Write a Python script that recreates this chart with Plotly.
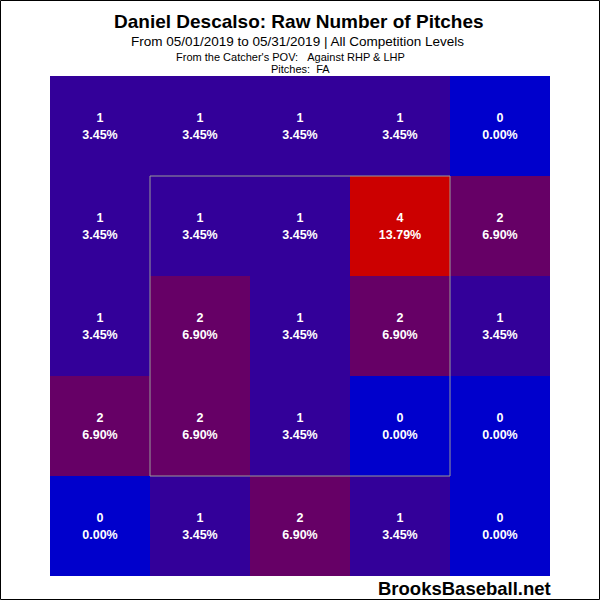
import plotly.graph_objects as go

# Pitch counts by zone, rows top -> bottom, columns left -> right (catcher's POV)
counts = [
    [1, 1, 1, 1, 0],
    [1, 1, 1, 4, 2],
    [1, 2, 1, 2, 1],
    [2, 2, 1, 0, 0],
    [0, 1, 2, 1, 0],
]
col_idx = [0, 1, 2, 3, 4]
row_idx = [0, 1, 2, 3, 4]

total = sum(sum(r) for r in counts)
pct_text = [["%.2f%%" % (100.0 * v / total) for v in r] for r in counts]

colorscale = [[0.0, "#0000CC"], [0.25, "#330099"], [0.5, "#660066"],
              [0.75, "#990033"], [1.0, "#CC0000"]]

fig = go.Figure(go.Heatmap(
    z=counts, x=col_idx, y=row_idx, text=pct_text,
    texttemplate="<b>%{z}<br>%{text}</b>",
    textfont=dict(family="Arial, Liberation Sans, sans-serif", size=12.5, color="white"),
    colorscale=colorscale, zmin=0, zmax=4, showscale=False,
    hoverinfo="skip",
))

W, H = 600, 600
L, R, T, B = 50, 50, 76, 24
pw, ph = W - L - R, H - T - B


def px(x):
    return (x - L) / pw


def py(y):
    return (H - B - y) / ph


fig.update_layout(
    width=W, height=H,
    margin=dict(l=L, r=R, t=T, b=B),
    paper_bgcolor="white", plot_bgcolor="white",
    xaxis=dict(visible=False, range=[-0.5, 4.5], fixedrange=True),
    yaxis=dict(visible=False, range=[4.5, -0.5], fixedrange=True),
    font=dict(family="Arial, Liberation Sans, sans-serif", color="black"),
)

# strike zone
fig.add_shape(type="rect", xref="x", yref="y", x0=0.5, x1=3.5, y0=0.5, y1=3.5,
              line=dict(color="#999999", width=1), fillcolor="rgba(0,0,0,0)")
# outer border
fig.add_shape(type="rect", xref="paper", yref="paper",
              x0=px(0.5), x1=px(599.5), y0=py(599.5), y1=py(0.5),
              line=dict(color="black", width=1), fillcolor="rgba(0,0,0,0)")

anns = [
    ("<b>Daniel Descalso: Raw Number of Pitches</b>", 19, 299, 22),
    ("From 05/01/2019 to 05/31/2019 | All Competition Levels", 13.5, 297, 42),
    ("From the Catcher's POV:\u00a0\u00a0\u00a0Against RHP & LHP", 11, 290, 57),
    ("Pitches:\u00a0\u00a0FA", 11, 300, 69),
]
for txt, size, x, y in anns:
    fig.add_annotation(text=txt, xref="paper", yref="paper", x=px(x), y=py(y),
                       xanchor="center", yanchor="middle", showarrow=False,
                       font=dict(size=size, color="black"))

fig.add_annotation(text="<b>BrooksBaseball.net</b>", xref="paper", yref="paper",
                   x=px(553), y=py(588), xanchor="right", yanchor="middle",
                   showarrow=False, font=dict(size=18.5, color="black"))

fig.write_html(
    "out.html",
    config={"displayModeBar": False},
    post_script="document.body.style.margin='0';document.body.style.overflow='hidden';",
)
